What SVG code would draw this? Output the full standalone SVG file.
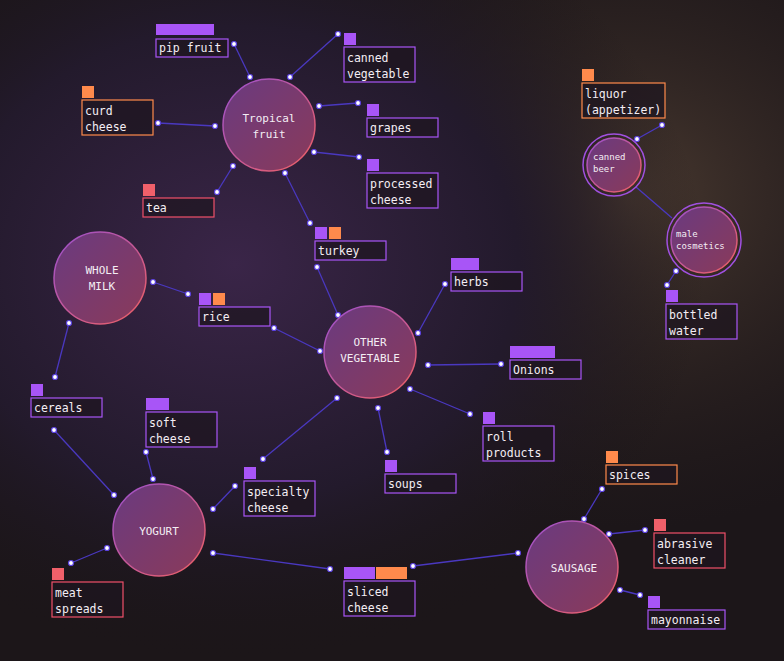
<svg xmlns="http://www.w3.org/2000/svg" width="784" height="661" viewBox="0 0 784 661">
<defs>
<radialGradient id="bgP" cx="0.3" cy="0.4" r="0.6"><stop offset="0" stop-color="#3a2548"/><stop offset="0.6" stop-color="#231a2c"/><stop offset="1" stop-color="#1b1519" stop-opacity="0"/></radialGradient>
<radialGradient id="bgB" cx="0.8" cy="0.3" r="0.5"><stop offset="0" stop-color="#4a3a30"/><stop offset="1" stop-color="#2a2020" stop-opacity="0"/></radialGradient>
<linearGradient id="nf" x1="0" y1="0" x2="1" y2="1"><stop offset="0" stop-color="#6a3a80"/><stop offset="1" stop-color="#8a3a5a"/></linearGradient>
<linearGradient id="ns" x1="0" y1="0" x2="1" y2="1"><stop offset="0" stop-color="#9a50d0"/><stop offset="1" stop-color="#f06060"/></linearGradient>
</defs>
<style>
.n{fill:url(#nf);stroke:url(#ns);stroke-width:1.5}
.ring{fill:none;stroke:#a050e0;stroke-width:1.5}
.nt{font-family:"DejaVu Sans Mono","Liberation Mono",monospace;font-size:11px;fill:#f4eef4;text-anchor:middle}
.st{font-family:"DejaVu Sans Mono","Liberation Mono",monospace;font-size:9px;fill:#f4eef4}
.lb{fill:#1e1620;fill-opacity:0.7;stroke-width:1.2}
.p{stroke:#a855f7}.o{stroke:#ff8a4c}.r{stroke:#f0506a}
.cp{fill:#a855f7}.co{fill:#ff8a4c}.cr{fill:#f0606a}
.lt{font-family:"DejaVu Sans Mono","Liberation Mono",monospace;font-size:11.5px;fill:#f4eef4}
#edges line{stroke:#4a38c0;stroke-width:1.3}
#edges circle{fill:#fff;stroke:#5a40e0;stroke-width:1.2}
</style>
<rect width="784" height="661" fill="#1c1619"/>
<rect width="784" height="661" fill="url(#bgB)"/>
<rect width="784" height="661" fill="url(#bgP)"/>
<g id="edges">
<line x1="250" y1="77" x2="234" y2="44"/><line x1="290" y1="77" x2="338" y2="34"/><line x1="319" y1="106" x2="358" y2="103"/><line x1="314" y1="152" x2="359" y2="157"/><line x1="215" y1="126" x2="158" y2="123"/><line x1="233" y1="166" x2="217" y2="192"/><line x1="285" y1="173" x2="310" y2="223"/>
<line x1="637" y1="139" x2="662" y2="125"/><line x1="636" y1="187" x2="672" y2="218"/><line x1="676" y1="271" x2="667" y2="285"/>
<line x1="153" y1="282" x2="188" y2="294"/><line x1="69" y1="323" x2="55" y2="377"/>
<line x1="317" y1="267" x2="338" y2="315"/><line x1="274" y1="328" x2="320" y2="351"/><line x1="418" y1="333" x2="445" y2="284"/><line x1="428" y1="365" x2="501" y2="364"/><line x1="410" y1="389" x2="470" y2="414"/><line x1="378" y1="408" x2="387" y2="452"/><line x1="337" y1="398" x2="263" y2="459"/>
<line x1="54" y1="430" x2="114" y2="495"/><line x1="146" y1="452" x2="153" y2="479"/><line x1="213" y1="509" x2="235" y2="486"/><line x1="107" y1="548" x2="71" y2="563"/><line x1="213" y1="553" x2="330" y2="569"/>
<line x1="518" y1="553" x2="413" y2="566"/><line x1="584" y1="519" x2="602" y2="489"/><line x1="609" y1="534" x2="645" y2="530"/><line x1="620" y1="590" x2="640" y2="595"/>
<g>
<circle cx="250" cy="77" r="2.5"/><circle cx="234" cy="44" r="2.5"/><circle cx="290" cy="77" r="2.5"/><circle cx="338" cy="34" r="2.5"/><circle cx="319" cy="106" r="2.5"/><circle cx="358" cy="103" r="2.5"/><circle cx="314" cy="152" r="2.5"/><circle cx="359" cy="157" r="2.5"/><circle cx="215" cy="126" r="2.5"/><circle cx="158" cy="123" r="2.5"/><circle cx="233" cy="166" r="2.5"/><circle cx="217" cy="192" r="2.5"/><circle cx="285" cy="173" r="2.5"/><circle cx="310" cy="223" r="2.5"/>
<circle cx="637" cy="139" r="2.5"/><circle cx="662" cy="125" r="2.5"/><circle cx="676" cy="271" r="2.5"/><circle cx="667" cy="285" r="2.5"/>
<circle cx="153" cy="282" r="2.5"/><circle cx="188" cy="294" r="2.5"/><circle cx="69" cy="323" r="2.5"/><circle cx="55" cy="377" r="2.5"/>
<circle cx="317" cy="267" r="2.5"/><circle cx="338" cy="315" r="2.5"/><circle cx="274" cy="328" r="2.5"/><circle cx="320" cy="351" r="2.5"/><circle cx="418" cy="333" r="2.5"/><circle cx="445" cy="284" r="2.5"/><circle cx="428" cy="365" r="2.5"/><circle cx="501" cy="364" r="2.5"/><circle cx="410" cy="389" r="2.5"/><circle cx="470" cy="414" r="2.5"/><circle cx="378" cy="408" r="2.5"/><circle cx="387" cy="452" r="2.5"/><circle cx="337" cy="398" r="2.5"/><circle cx="263" cy="459" r="2.5"/>
<circle cx="54" cy="430" r="2.5"/><circle cx="114" cy="495" r="2.5"/><circle cx="146" cy="452" r="2.5"/><circle cx="153" cy="479" r="2.5"/><circle cx="213" cy="509" r="2.5"/><circle cx="235" cy="486" r="2.5"/><circle cx="107" cy="548" r="2.5"/><circle cx="71" cy="563" r="2.5"/><circle cx="213" cy="553" r="2.5"/><circle cx="330" cy="569" r="2.5"/>
<circle cx="518" cy="553" r="2.5"/><circle cx="413" cy="566" r="2.5"/><circle cx="584" cy="519" r="2.5"/><circle cx="602" cy="489" r="2.5"/><circle cx="609" cy="534" r="2.5"/><circle cx="645" cy="530" r="2.5"/><circle cx="620" cy="590" r="2.5"/><circle cx="640" cy="595" r="2.5"/>
</g>
</g>
<g id="tropical"><circle class="n" cx="269" cy="125" r="46"/><text class="nt" x="269" y="122">Tropical</text><text class="nt" x="269" y="138">fruit</text></g>
<g id="wholemilk"><circle class="n" cx="100" cy="278" r="46"/><text class="nt" x="102" y="274">WHOLE</text><text class="nt" x="102" y="290">MILK</text></g>
<g id="othervegetable"><circle class="n" cx="370" cy="352" r="46"/><text class="nt" x="370" y="346">OTHER</text><text class="nt" x="370" y="362">VEGETABLE</text></g>
<g id="yogurt"><circle class="n" cx="159" cy="530" r="46"/><text class="nt" x="159" y="535">YOGURT</text></g>
<g id="sausage"><circle class="n" cx="572" cy="567" r="46"/><text class="nt" x="574" y="572">SAUSAGE</text></g>
<g id="cannedbeer"><circle class="ring" cx="614" cy="165" r="31"/><circle class="n" cx="614" cy="165" r="27"/><text class="st" x="593" y="160">canned</text><text class="st" x="593" y="172">beer</text></g>
<g id="malecosmetics"><circle class="ring" cx="704" cy="240" r="37"/><circle class="n" cx="704" cy="240" r="33"/><text class="st" x="676" y="237">male</text><text class="st" x="676" y="249">cosmetics</text></g>

<g id="l-pip"><rect class="cp" x="156" y="24" width="58" height="11"/><rect class="lb p" x="156" y="39" width="72" height="18"/><text class="lt" x="159" y="52">pip fruit</text></g>
<g id="l-cannedveg"><rect class="cp" x="344" y="33" width="12" height="12"/><rect class="lb p" x="344" y="47" width="71" height="35"/><text class="lt" x="347" y="62">canned</text><text class="lt" x="347" y="78">vegetable</text></g>
<g id="l-curd"><rect class="co" x="82" y="86" width="12" height="12"/><rect class="lb o" x="82" y="100" width="71" height="35"/><text class="lt" x="85" y="115">curd</text><text class="lt" x="85" y="131">cheese</text></g>
<g id="l-grapes"><rect class="cp" x="367" y="104" width="12" height="12"/><rect class="lb p" x="367" y="118" width="71" height="19"/><text class="lt" x="370" y="132">grapes</text></g>
<g id="l-processed"><rect class="cp" x="367" y="159" width="12" height="12"/><rect class="lb p" x="367" y="173" width="71" height="35"/><text class="lt" x="370" y="188">processed</text><text class="lt" x="370" y="204">cheese</text></g>
<g id="l-tea"><rect class="cr" x="143" y="184" width="12" height="12"/><rect class="lb r" x="143" y="198" width="71" height="19"/><text class="lt" x="146" y="212">tea</text></g>
<g id="l-turkey"><rect class="cp" x="315" y="227" width="12" height="12"/><rect class="co" x="329" y="227" width="12" height="12"/><rect class="lb p" x="315" y="241" width="71" height="19"/><text class="lt" x="318" y="255">turkey</text></g>
<g id="l-herbs"><rect class="cp" x="451" y="258" width="28" height="12"/><rect class="lb p" x="451" y="272" width="71" height="19"/><text class="lt" x="454" y="286">herbs</text></g>
<g id="l-rice"><rect class="cp" x="199" y="293" width="12" height="12"/><rect class="co" x="213" y="293" width="12" height="12"/><rect class="lb p" x="199" y="307" width="71" height="19"/><text class="lt" x="202" y="321">rice</text></g>
<g id="l-onions"><rect class="cp" x="510" y="346" width="45" height="12"/><rect class="lb p" x="510" y="360" width="71" height="19"/><text class="lt" x="513" y="374">Onions</text></g>
<g id="l-cereals"><rect class="cp" x="31" y="384" width="12" height="12"/><rect class="lb p" x="31" y="398" width="71" height="19"/><text class="lt" x="34" y="412">cereals</text></g>
<g id="l-soft"><rect class="cp" x="146" y="398" width="23" height="12"/><rect class="lb p" x="146" y="412" width="71" height="35"/><text class="lt" x="149" y="427">soft</text><text class="lt" x="149" y="443">cheese</text></g>
<g id="l-roll"><rect class="cp" x="483" y="412" width="12" height="12"/><rect class="lb p" x="483" y="426" width="71" height="35"/><text class="lt" x="486" y="441">roll</text><text class="lt" x="486" y="457">products</text></g>
<g id="l-soups"><rect class="cp" x="385" y="460" width="12" height="12"/><rect class="lb p" x="385" y="474" width="71" height="19"/><text class="lt" x="388" y="488">soups</text></g>
<g id="l-specialty"><rect class="cp" x="244" y="467" width="12" height="12"/><rect class="lb p" x="244" y="481" width="71" height="35"/><text class="lt" x="247" y="496">specialty</text><text class="lt" x="247" y="512">cheese</text></g>
<g id="l-spices"><rect class="co" x="606" y="451" width="12" height="12"/><rect class="lb o" x="606" y="465" width="71" height="19"/><text class="lt" x="609" y="479">spices</text></g>
<g id="l-abrasive"><rect class="cr" x="654" y="519" width="12" height="12"/><rect class="lb r" x="654" y="533" width="71" height="35"/><text class="lt" x="657" y="548">abrasive</text><text class="lt" x="657" y="564">cleaner</text></g>
<g id="l-meat"><rect class="cr" x="52" y="568" width="12" height="12"/><rect class="lb r" x="52" y="582" width="71" height="35"/><text class="lt" x="55" y="597">meat</text><text class="lt" x="55" y="613">spreads</text></g>
<g id="l-sliced"><rect class="cp" x="344" y="567" width="31" height="12"/><rect class="co" x="376" y="567" width="31" height="12"/><rect class="lb p" x="344" y="581" width="71" height="35"/><text class="lt" x="347" y="596">sliced</text><text class="lt" x="347" y="612">cheese</text></g>
<g id="l-mayo"><rect class="cp" x="648" y="596" width="12" height="12"/><rect class="lb p" x="648" y="610" width="77" height="19"/><text class="lt" x="651" y="624">mayonnaise</text></g>
<g id="l-liquor"><rect class="co" x="582" y="69" width="12" height="12"/><rect class="lb o" x="582" y="83" width="83" height="35"/><text class="lt" x="585" y="98">liquor</text><text class="lt" x="585" y="114">(appetizer)</text></g>
<g id="l-bottled"><rect class="cp" x="666" y="290" width="12" height="12"/><rect class="lb p" x="666" y="304" width="71" height="35"/><text class="lt" x="669" y="319">bottled</text><text class="lt" x="669" y="335">water</text></g>
</svg>
